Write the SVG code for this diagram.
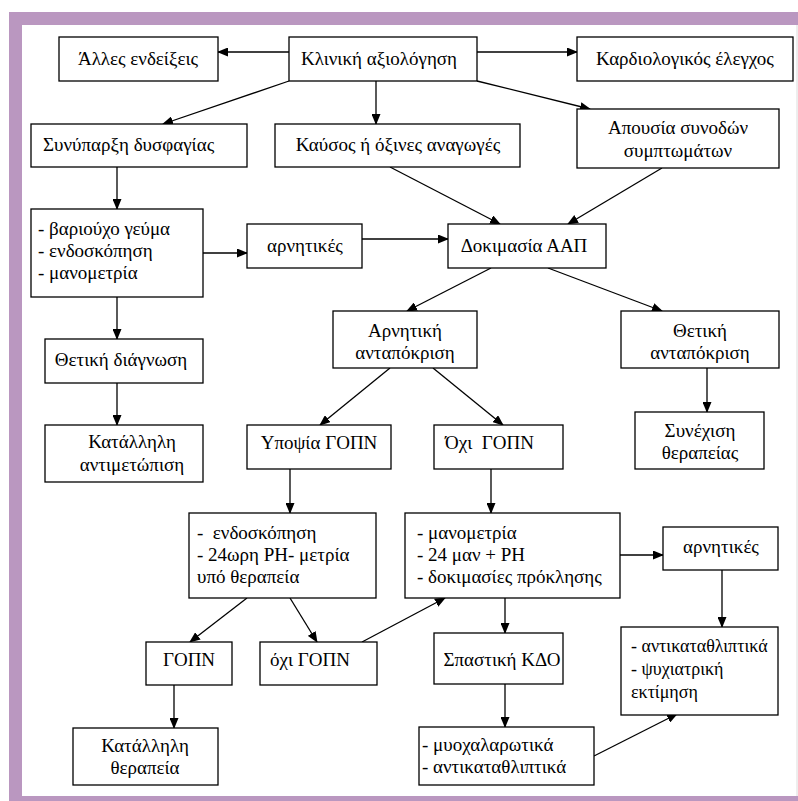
<svg xmlns="http://www.w3.org/2000/svg" width="798" height="801" viewBox="0 0 798 801">
<style>
.b{fill:#fff;stroke:#000;stroke-width:1.3}
.t{font-family:'Liberation Serif','Times New Roman',serif;font-size:19px;fill:#000}
.s{font-size:18px}
.m{text-anchor:middle}
.c line{stroke:#000;stroke-width:1.3;marker-end:url(#ah)}
</style>
<defs>
<marker id="ah" markerUnits="userSpaceOnUse" markerWidth="11" markerHeight="9" refX="10" refY="4.5" orient="auto">
<path d="M0,0 L11,4.5 L0,9 z" fill="#000"/>
</marker>
</defs>
<rect x="0" y="0" width="798" height="801" fill="#fff"/>
<g id="frame">
<rect x="9" y="12" width="789" height="13" fill="#ba97c0"/>
<rect x="9" y="12" width="13" height="789" fill="#ba97c0"/>
<rect x="9" y="796" width="789" height="5" fill="#ba97c0"/>
<line x1="797" y1="25" x2="797" y2="796" stroke="#dcdcdc" stroke-width="1"/>
</g>
<g class="c" id="connectors">
<line x1="289" y1="52" x2="218" y2="52"/>
<line x1="477" y1="52" x2="577" y2="52"/>
<line x1="289" y1="81" x2="163" y2="124"/>
<line x1="376" y1="81" x2="376" y2="124"/>
<line x1="477" y1="81" x2="590" y2="109"/>
<line x1="117" y1="167" x2="117" y2="209"/>
<line x1="203" y1="253" x2="247" y2="253"/>
<line x1="362" y1="239" x2="448" y2="239"/>
<line x1="390" y1="167" x2="500" y2="224"/>
<line x1="662" y1="168" x2="568" y2="224"/>
<line x1="117" y1="297" x2="117" y2="339"/>
<line x1="491" y1="268" x2="407" y2="311"/>
<line x1="548" y1="268" x2="662" y2="311"/>
<line x1="117" y1="383" x2="117" y2="425"/>
<line x1="390" y1="368" x2="320" y2="425"/>
<line x1="433" y1="368" x2="503" y2="425"/>
<line x1="707" y1="368" x2="707" y2="412"/>
<line x1="290" y1="469" x2="290" y2="513"/>
<line x1="491" y1="469" x2="491" y2="513"/>
<line x1="620" y1="555" x2="663" y2="555"/>
<line x1="247" y1="598" x2="190" y2="642"/>
<line x1="290" y1="598" x2="317" y2="642"/>
<line x1="362" y1="642" x2="445" y2="598"/>
<line x1="722" y1="570" x2="722" y2="627"/>
<line x1="505" y1="598" x2="505" y2="633"/>
<line x1="174" y1="685" x2="174" y2="728"/>
<line x1="505" y1="684" x2="505" y2="727"/>
<line x1="594" y1="756" x2="677" y2="714"/>
</g>
<g id="n_alles"><rect class="b" x="59" y="37" width="159" height="44"/><text class="t m" x="138" y="65">Άλλες ενδείξεις</text></g>
<g id="n_kliniki"><rect class="b" x="289" y="37" width="188" height="44"/><text class="t m" x="379" y="65">Κλινική αξιολόγηση</text></g>
<g id="n_kardio"><rect class="b" x="577" y="37" width="216" height="44"/><text class="t m" x="685" y="65">Καρδιολογικός έλεγχος</text></g>
<g id="n_dysfagia"><rect class="b" x="31" y="124" width="216" height="43"/><text class="t" x="43" y="151">Συνύπαρξη δυσφαγίας</text></g>
<g id="n_kaysos"><rect class="b" x="275" y="124" width="245" height="43"/><text class="t m" x="398" y="151">Καύσος ή όξινες αναγωγές</text></g>
<g id="n_apousia"><rect class="b" x="577" y="109" width="202" height="59"/><text class="t m" x="678" y="134">Απουσία συνοδών</text><text class="t m" x="678" y="157">συμπτωμάτων</text></g>
<g id="n_variouxo"><rect class="b" x="31" y="209" width="172" height="88"/><text class="t" x="38" y="235">- βαριούχο γεύμα</text><text class="t" x="38" y="257">- ενδοσκόπηση</text><text class="t" x="38" y="279">- μανομετρία</text></g>
<g id="n_arnitikes1"><rect class="b" x="247" y="224" width="115" height="44"/><text class="t m" x="305" y="252">αρνητικές</text></g>
<g id="n_aap"><rect class="b" x="448" y="224" width="158" height="44"/><text class="t m" x="524" y="252">Δοκιμασία ΑΑΠ</text></g>
<g id="n_arnitiki"><rect class="b" x="333" y="311" width="144" height="57"/><text class="t m" x="405" y="337">Αρνητική</text><text class="t m" x="405" y="359">ανταπόκριση</text></g>
<g id="n_thetiki"><rect class="b" x="621" y="311" width="158" height="57"/><text class="t m" x="700" y="337">Θετική</text><text class="t m" x="700" y="359">ανταπόκριση</text></g>
<g id="n_diagnosi"><rect class="b" x="45" y="339" width="158" height="44"/><text class="t m" x="121" y="366">Θετική διάγνωση</text></g>
<g id="n_antimetopisi"><rect class="b" x="45" y="425" width="158" height="57"/><text class="t m" x="132" y="448">Κατάλληλη</text><text class="t m" x="132" y="471">αντιμετώπιση</text></g>
<g id="n_ypopsia"><rect class="b" x="247" y="425" width="144" height="44"/><text class="t m" x="319" y="449">Υποψία ΓΟΠΝ</text></g>
<g id="n_oxi"><rect class="b" x="434" y="425" width="129" height="44"/><text class="t" x="445" y="449" xml:space="preserve">Όχι  ΓΟΠΝ</text></g>
<g id="n_synexisi"><rect class="b" x="635" y="412" width="129" height="57"/><text class="t m" x="700" y="437">Συνέχιση</text><text class="t m" x="700" y="459">θεραπείας</text></g>
<g id="n_endoskopisi"><rect class="b" x="189" y="513" width="187" height="85"/><text class="t" x="197" y="539" xml:space="preserve">-  ενδοσκόπηση</text><text class="t" x="197" y="561">- 24ωρη PH- μετρία</text><text class="t" x="197" y="583">υπό θεραπεία</text></g>
<g id="n_manometria"><rect class="b" x="405" y="513" width="215" height="85"/><text class="t" x="417" y="539">- μανομετρία</text><text class="t" x="417" y="561">- 24 μαν + PH</text><text class="t" x="417" y="583">- δοκιμασίες πρόκλησης</text></g>
<g id="n_arnitikes2"><rect class="b" x="663" y="527" width="115" height="43"/><text class="t m" x="721" y="553">αρνητικές</text></g>
<g id="n_gopn"><rect class="b" x="146" y="642" width="86" height="43"/><text class="t m" x="189" y="666">ΓΟΠΝ</text></g>
<g id="n_oxigopn"><rect class="b" x="260" y="642" width="117" height="43"/><text class="t" x="270" y="666">όχι ΓΟΠΝ</text></g>
<g id="n_spastiki"><rect class="b" x="434" y="633" width="129" height="51"/><text class="t m" x="502" y="666">Σπαστική ΚΔΟ</text></g>
<g id="n_antikatathliptika"><rect class="b" x="621" y="627" width="157" height="88"/><text class="t s" x="631" y="652">- αντικαταθλιπτικά</text><text class="t s" x="631" y="675">- ψυχιατρική</text><text class="t s" x="631" y="698">εκτίμηση</text></g>
<g id="n_therapeia"><rect class="b" x="73" y="728" width="145" height="57"/><text class="t m" x="145" y="752">Κατάλληλη</text><text class="t m" x="145" y="774">θεραπεία</text></g>
<g id="n_myoxalarotika"><rect class="b" x="419" y="727" width="175" height="58"/><text class="t" x="422" y="751">- μυοχαλαρωτικά</text><text class="t" x="422" y="773">- αντικαταθλιπτικά</text></g>
</svg>
